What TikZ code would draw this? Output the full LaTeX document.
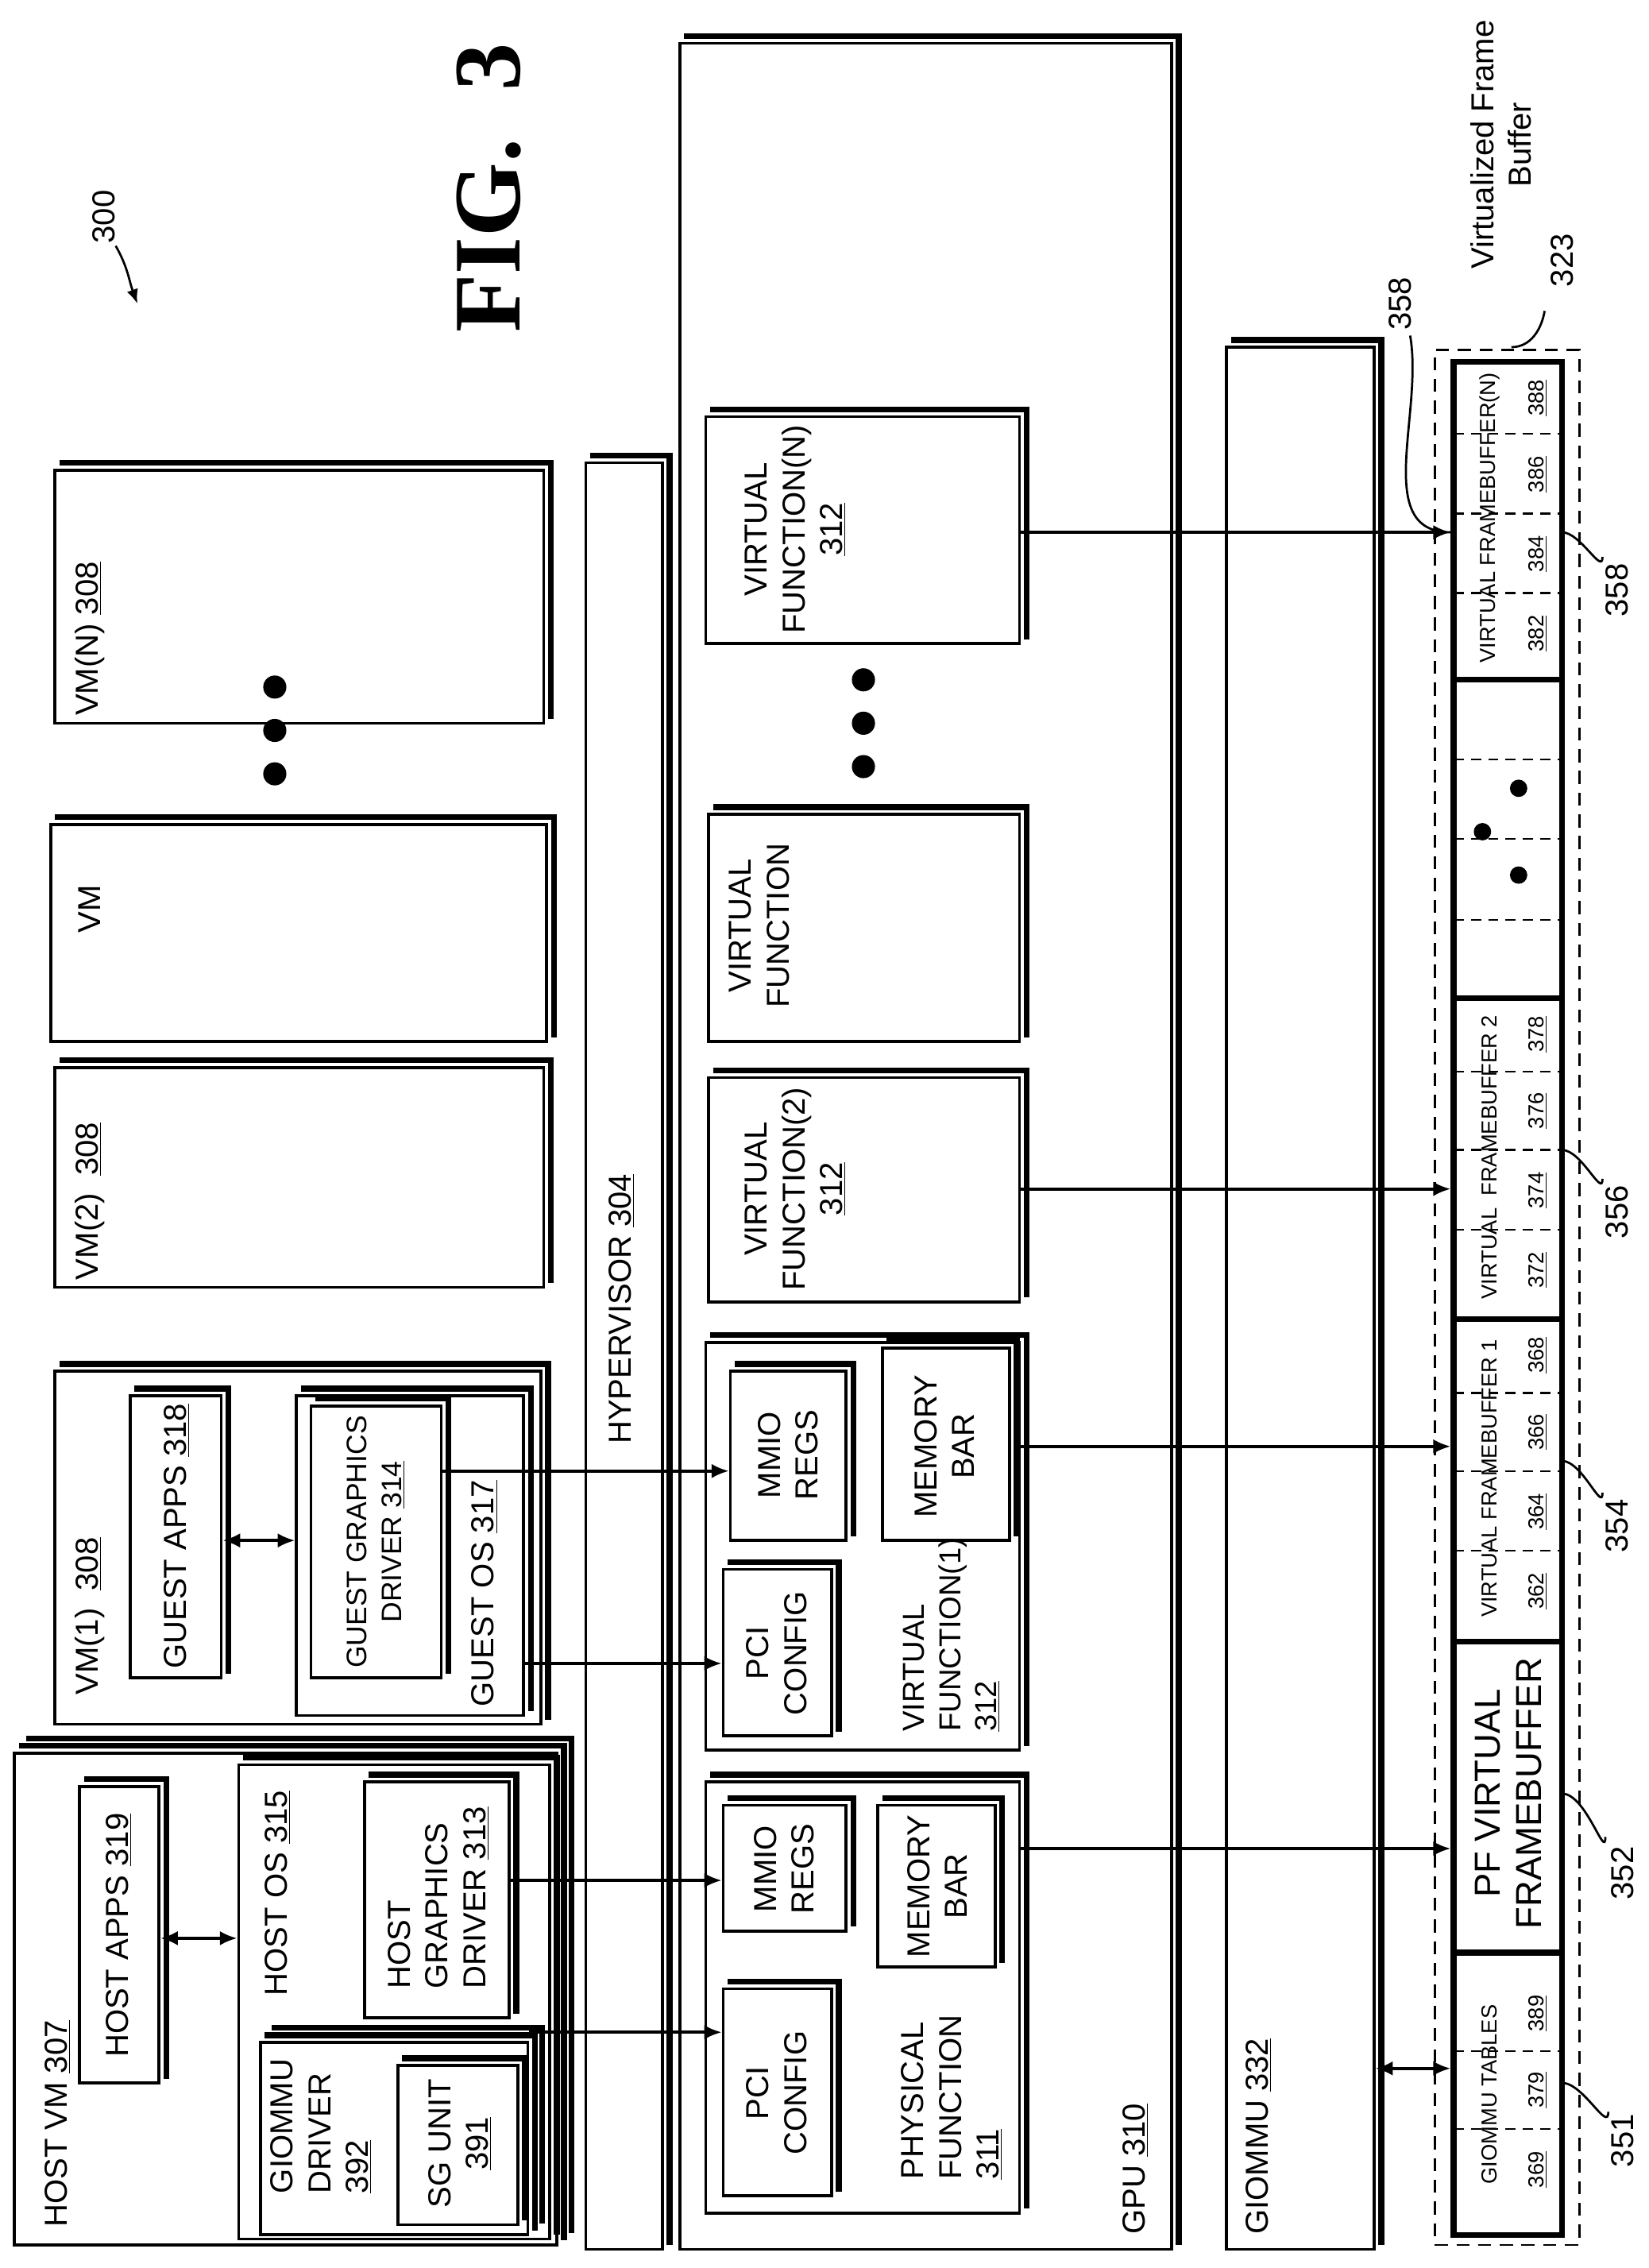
\documentclass[tikz,border=0pt]{standalone}
\usepackage{fontspec}
\setmainfont{Liberation Sans}
\newfontfamily\figfont{Liberation Serif}
\usetikzlibrary{fit,arrows.meta}
\newcommand\shb[5]{\node[bx,fit={(#2,#3)(#4,#5)}] (#1) {};
 \draw[line width=4pt] ([shift={(4,-4)}]#1.north west) -- ([shift={(4,-4)}]#1.north east) -- ([shift={(4,-4)}]#1.south east);}
\newcommand\shbb[5]{\shb{#1}{#2}{#3}{#4}{#5}
 \draw[line width=4pt] ([shift={(9,-9)}]#1.north west) -- ([shift={(9,-9)}]#1.north east) -- ([shift={(9,-9)}]#1.south east);}
\begin{document}
\begin{tikzpicture}[x=1pt,y=-1pt,
 bx/.style={draw,line width=2pt,inner sep=0pt},
 t/.style={rotate=90,font=\fontsize{22}{26}\selectfont,align=center,inner sep=0pt},
 tl/.style={t,align=left},
 ts/.style={rotate=90,font=\fontsize{15}{18}\selectfont,inner sep=0pt},
 arr/.style={line width=2pt,-{Latex[length=12pt,width=10pt]}},
 darr/.style={line width=2pt,{Latex[length=12pt,width=10pt]}-{Latex[length=12pt,width=10pt]}},
 seg/.style={draw,line width=4pt,inner sep=0pt},
 dl/.style={dash pattern=on 7pt off 5pt,line width=1.3pt},
 ld/.style={line width=1.5pt}]
\useasboundingbox[fill=white] (0,0) rectangle (1140,1568);
% Host VM
\shbb{hostvm}{10}{1212}{385}{1552}
\node[t,anchor=west] (thv) at (40,1540) {HOST VM \underline{307}};
\shb{hostapps}{55}{1235}{110}{1440}
\node[t] (tha) at (82,1338) {HOST APPS \underline{319}};
\shb{hostos}{165}{1220}{380}{1548}
\node[t,anchor=west] (tho) at (192,1380) {HOST OS \underline{315}};
\shbb{giommudrv}{180}{1412}{365}{1545}
\node[tl] (tgd) at (222,1470) {GIOMMU\\DRIVER\\\underline{392}};
\shb{sgunit}{275}{1428}{358}{1538}
\node[t] (tsg) at (318,1482) {SG UNIT\\\underline{391}};
\shb{hgd}{252}{1232}{352}{1395}
\node[tl] (thg) at (303,1312) {HOST\\GRAPHICS\\DRIVER \underline{313}};
% VM1
\shb{vm1}{38}{948}{374}{1192}
\node[t,anchor=west] (tv1) at (62,1172) {VM(1)\ \ \underline{308}};
\shb{gapps}{90}{965}{153}{1160}
\node[t] (tga) at (122,1062) {GUEST APPS \underline{318}};
\shb{gos}{205}{965}{362}{1186}
\node[t,anchor=west] (tgo) at (335,1180) {GUEST OS \underline{317}};
\shb{ggd}{215}{972}{305}{1160}
\node[t,font=\fontsize{19.5}{24}\selectfont] (tgg) at (260,1066) {GUEST GRAPHICS\\DRIVER \underline{314}};
% other VMs
\shb{vm2}{38}{738}{376}{890}
\node[t,anchor=west] (tv2) at (62,885) {VM(2)\ \ \underline{308}};
\shb{vm}{35}{570}{378}{720}
\node[t,anchor=west] (tvm) at (62,645) {VM};
\shb{vmn}{38}{325}{376}{500}
\node[t,anchor=west] (tvn) at (62,495) {VM(N) \underline{308}};
\foreach \yy in {475,505,535} \fill (190,\yy) circle (8);
% Hypervisor
\shb{hyp}{405}{320}{458}{1555}
\node[t] (thy) at (430,905) {HYPERVISOR \underline{304}};
% GPU
\shb{gpu}{470}{30}{810}{1555}
\node[t,anchor=west] (tgpu) at (785,1545) {GPU \underline{310}};
\shb{pf}{488}{1232}{705}{1530}
\shb{pfpci}{500}{1375}{575}{1518}
\node[t] (tpp) at (537,1447) {PCI\\CONFIG};
\shb{pfmmio}{500}{1248}{585}{1335}
\node[t] (tpm) at (542,1292) {MMIO\\REGS};
\shb{pfmem}{607}{1248}{688}{1360}
\node[t] (tpb) at (648,1304) {MEMORY\\BAR};
\node[tl] (tpf) at (658,1450) {PHYSICAL\\FUNCTION\\\underline{311}};
\shb{vf1}{488}{928}{705}{1210}
\shb{vf1pci}{500}{1085}{575}{1200}
\node[t] (tvp) at (537,1143) {PCI\\CONFIG};
\shb{vf1mmio}{505}{948}{585}{1065}
\node[t] (tvm1) at (545,1006) {MMIO\\REGS};
\shb{vf1mem}{610}{932}{698}{1065}
\node[t] (tvb) at (653,1000) {MEMORY\\BAR};
\node[tl,font=\fontsize{21}{25}\selectfont] (tvf1) at (658,1130) {VIRTUAL\\FUNCTION(1)\\\underline{312}};
\shb{vf2}{490}{745}{705}{900}
\node[t] (tvf2) at (550,822) {VIRTUAL\\FUNCTION(2)\\\underline{312}};
\shb{vfx}{490}{563}{705}{720}
\node[t] (tvfx) at (525,640) {VIRTUAL\\FUNCTION};
\foreach \yy in {470,500,530} \fill (597,\yy) circle (8);
\shb{vfn}{488}{288}{705}{445}
\node[t] (tvfn) at (550,366) {VIRTUAL\\FUNCTION(N)\\\underline{312}};
% GIOMMU
\shb{giommu}{848}{240}{950}{1555}
\node[t,anchor=west] (tgi) at (870,1545) {GIOMMU \underline{332}};
% Framebuffer
\node[draw,dash pattern=on 9pt off 6pt,line width=1.5pt,fit={(992,242)(1092,1552)},inner sep=0pt] (vfb) {};
\node[t] (tvfb) at (1038,100) {Virtualized Frame\\Buffer};
\node[t] (t323) at (1080,180) {323};
\draw[ld] (1068,215) to[out=-100,in=0] (1045,240);
\node[seg,fit={(1005,1350)(1080,1545)}] (sgt) {};
\node[seg,fit={(1005,1135)(1080,1350)}] (spf) {};
\node[seg,fit={(1005,912)(1080,1135)}] (s1) {};
\node[seg,fit={(1005,690)(1080,912)}] (s2) {};
\node[seg,fit={(1005,470)(1080,690)}] (sd) {};
\node[seg,fit={(1005,250)(1080,470)}] (sn) {};
% segment contents
\node[ts] (tgt) at (1030,1448) {GIOMMU TABLES};
\foreach \n/\yy in {369/1500,379/1445,389/1392} \node[ts] (g\n) at (1063,\yy) {\underline{\n}};
\foreach \yy in {1418,1472} \draw[dl] (1005,\yy) -- (1080,\yy);
\node[t,font=\fontsize{25}{29}\selectfont] (tpfv) at (1043,1240) {PF VIRTUAL\\FRAMEBUFFER};
\node[ts] (t1) at (1030,1022) {VIRTUAL FRAMEBUFFER 1};
\foreach \n/\yy in {362/1100,364/1045,366/990,368/937} \node[ts] (g\n) at (1063,\yy) {\underline{\n}};
\foreach \yy in {1072,1017,963} \draw[dl] (1005,\yy) -- (1080,\yy);
\node[ts] (t2) at (1030,800) {VIRTUAL\ \ FRAMEBUFFER 2};
\foreach \n/\yy in {372/878,374/823,376/768,378/715} \node[ts] (g\n) at (1063,\yy) {\underline{\n}};
\foreach \yy in {850,795,741} \draw[dl] (1005,\yy) -- (1080,\yy);
\foreach \yy in {525,580,636} \draw[dl] (1005,\yy) -- (1080,\yy);
\fill (1050,545) circle (6); \fill (1025,575) circle (6); \fill (1050,605) circle (6);
\node[ts] (tn) at (1030,358) {VIRTUAL FRAMEBUFFER(N)};
\foreach \n/\yy in {382/438,384/383,386/328,388/275} \node[ts] (g\n) at (1063,\yy) {\underline{\n}};
\foreach \yy in {410,355,300} \draw[dl] (1005,\yy) -- (1080,\yy);
% reference labels
\node[t] (l351) at (1122,1480) {351};
\draw[ld] (1080,1440) to[out=0,in=-90] (1112,1460);
\node[t] (l352) at (1122,1295) {352};
\draw[ld] (1080,1240) to[out=0,in=-90] (1110,1270);
\node[t] (l354) at (1118,1055) {354};
\draw[ld] (1080,1010) to[out=0,in=-90] (1108,1032);
\node[t] (l356) at (1118,838) {356};
\draw[ld] (1080,795) to[out=0,in=-90] (1108,815);
\node[t] (l358) at (1118,408) {358};
\draw[ld] (1080,368) to[out=0,in=-90] (1108,385);
\node[t] (l358b) at (968,210) {358};
\draw[ld] (975,232) to[out=-80,in=180] (1003,368);
% arrows
\foreach \yy in {1405,1300,1017,1150,1278,1000,822,368,1340,1065,1430} \coordinate (y\yy) at (0,\yy);
\draw[arr] (giommudrv.east |- y1405) -- (pfpci.west |- y1405);
\draw[arr] (hgd.east |- y1300) -- (pfmmio.west |- y1300);
\draw[arr] (ggd.east |- y1017) -- (vf1mmio.west |- y1017);
\draw[arr] (gos.east |- y1150) -- (vf1pci.west |- y1150);
\draw[arr] (pf.east |- y1278) -- (spf.west |- y1278);
\draw[arr] (vf1.east |- y1000) -- (s1.west |- y1000);
\draw[arr] (vf2.east |- y822) -- (s2.west |- y822);
\draw[arr] (vfn.east |- y368) -- (sn.west |- y368);
\draw[darr] (hostapps.east |- y1340) -- (hostos.west |- y1340);
\draw[darr] (gapps.east |- y1065) -- (gos.west |- y1065);
\draw[darr] (giommu.east |- y1430) -- (sgt.west |- y1430);
% fig label
\node[rotate=90,font=\figfont\bfseries\fontsize{66}{70}\selectfont] (fig) at (338,130) {FIG.\ \ 3};
\node[t] (l300) at (72,150) {300};
\draw[line width=1.5pt,-{Latex[length=10pt,width=8pt]}] (80,170) to[out=-60,in=110] (95,210);
\end{tikzpicture}
\end{document}
